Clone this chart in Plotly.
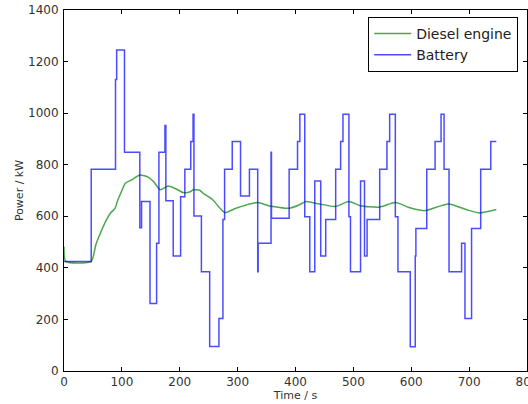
import plotly.graph_objects as go

# Battery power: step changes (time of change, new value)
battery_t = [0, 47, 89, 91, 104.5, 131, 134, 148.6, 160, 164, 174.4, 176, 188.7, 201.5, 208.8,
             219, 223, 224.5, 237.4, 251.7, 267.7, 274.6, 277.5, 290.7, 305, 320.4, 334.7, 335.5,
             357.7, 358.5, 389, 403.5, 407.5, 416, 424.7, 433.3, 443.6, 452.2, 469.4, 478, 482,
             492.3, 495, 512.4, 519.2, 523.7, 545.5, 558, 562.7, 572.5, 577, 598.3, 606.9, 608,
             626.8, 641.2, 651.5, 656.7, 665.3, 687, 692.8, 704.2, 720, 737.4, 747]
battery_p = [425, 782, 1130, 1245, 848, 556, 657, 262, 495, 848, 952, 660, 446, 676, 782,
             890, 996, 601, 385, 95, 204, 588, 782, 890, 679, 782, 385, 495,
             848, 592, 782, 890, 996, 598, 385, 737, 446, 588, 782, 890, 996,
             598, 385, 737, 446, 588, 782, 890, 996, 598, 385, 94, 446, 553,
             782, 890, 996, 782, 385, 495, 204, 553, 782, 890, 890]

# Diesel engine power
diesel_t = [0, 3, 47, 55, 63, 72, 80, 88, 92, 100, 106, 117, 131, 146, 155, 166, 180, 192, 206,
            218, 223, 235, 240, 257, 270, 278, 297, 315, 335, 355, 370, 389, 406, 418, 441, 469,
            492, 512, 544, 573, 595, 607, 624, 664, 698, 718, 747]
diesel_p = [482, 425, 425, 490, 535, 580, 612, 630, 657, 700, 728, 741, 760, 751, 734, 703, 717,
            708, 692, 695, 703, 700, 690, 664, 630, 614, 631, 644, 653, 640, 635, 631, 644, 657,
            648, 638, 657, 641, 635, 653, 635, 627, 622, 648, 624, 613, 626]

x_ticks = [0, 100, 200, 300, 400, 500, 600, 700, 800]
y_ticks = [0, 200, 400, 600, 800, 1000, 1200, 1400]

fig = go.Figure()
fig.add_trace(go.Scatter(x=diesel_t, y=diesel_p, mode="lines", name="Diesel engine",
                         line=dict(color="rgba(0,128,0,0.7)", width=1.5, shape="spline", smoothing=0.6)))
fig.add_trace(go.Scatter(x=battery_t, y=battery_p, mode="lines", name="Battery",
                         line=dict(color="rgba(0,0,255,0.7)", width=1.5, shape="hv")))

axis_common = dict(showline=True, linecolor="black", linewidth=1, mirror="ticks",
                   ticks="inside", ticklen=4, tickcolor="black", showgrid=False, zeroline=False,
                   ticklabeloverflow="allow",
                   tickfont=dict(size=12, color="#333333"))

fig.update_layout(
    width=528, height=404,
    margin=dict(l=64, r=1, t=10, b=33),
    paper_bgcolor="white", plot_bgcolor="white",
    font=dict(family="DejaVu Sans", color="#333333"),
    xaxis=dict(range=[0, 800], tickvals=x_ticks, ticklabelstandoff=0, automargin="bottom",
               title=dict(text="Time / s", font=dict(size=11), standoff=2),
               **axis_common),
    yaxis=dict(range=[0, 1400], tickvals=y_ticks, ticklabelstandoff=2, automargin="left",
               title=dict(text="Power / kW", font=dict(size=11), standoff=2),
               **axis_common),
    legend=dict(x=0.657, y=0.981, xanchor="left", yanchor="top", bordercolor="black", borderwidth=1,
                bgcolor="white", font=dict(size=14, color="#222222"), tracegroupgap=0,
                itemwidth=37),
    showlegend=True,
)

# Remove the default page margin so the figure fills the window exactly.
fig.write_html("out.html", config={"displayModeBar": False},
               post_script="document.body.style.margin='0px';")
